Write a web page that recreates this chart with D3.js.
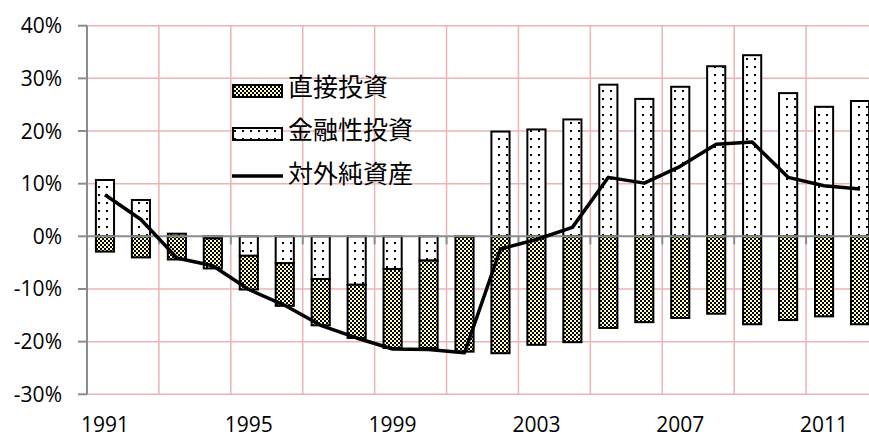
<!DOCTYPE html>
<html>
<head>
<meta charset="utf-8">
<script src="https://cdn.jsdelivr.net/npm/d3@7"></script>
<style>
  html, body { margin: 0; padding: 0; background: #fff; }
  svg { display: block; }
  .tick-label { font-family: "Open Sans", sans-serif; font-size: 21px; fill: #000; }
  .legend-label { font-family: "Noto Sans CJK JP", sans-serif; font-size: 25px; fill: #000; }
</style>
</head>
<body>
<svg width="869" height="438"></svg>
<script>
var years = [1991, 1992, 1993, 1994, 1995, 1996, 1997, 1998, 1999, 2000, 2001,
             2002, 2003, 2004, 2005, 2006, 2007, 2008, 2009, 2010, 2011, 2012];

// percent of GDP
var directInvest = [-2.9, -4.0, -4.4, -5.7, -6.4, -8.1, -8.8, -10.1, -15.0, -16.6, -21.8,
                    -22.2, -20.6, -20.1, -17.4, -16.3, -15.5, -14.7, -16.7, -15.9, -15.2, -16.7];
var portfolioInvest = [10.7, 6.9, 0.5, -0.4, -3.7, -5.1, -8.1, -9.2, -6.2, -4.6, -0.1,
                       19.9, 20.3, 22.2, 28.8, 26.1, 28.4, 32.3, 34.4, 27.2, 24.6, 25.7];
var netAssets = [7.9, 3.2, -4.1, -5.6, -10.1, -13.1, -16.9, -19.3, -21.4, -21.5, -22.1,
                 -2.4, -0.6, 1.7, 11.2, 10.1, 13.3, 17.5, 17.9, 11.2, 9.6, 9.0];

var yTicks = [-30, -20, -10, 0, 10, 20, 30, 40];
var xLabels = [1991, 1995, 1999, 2003, 2007, 2011];
var legendNames = ["直接投資", "金融性投資", "対外純資産"];

var DrawChart = function(){
  var svg = d3.select("svg");

  var plotLeft = 87,
      plotRight = 878,
      plotTop = 25.7,
      plotBottom = 394.3;

  var x = d3.scaleBand()
        .domain(years)
        .range([plotLeft, plotRight])
        .paddingInner(0.44)
        .paddingOuter(0.22);

  var y = d3.scaleLinear()
        .domain([-30, 40])
        .range([plotBottom, plotTop]);

  var step = x.step();

  // patterns
  var defs = svg.append("defs");

  var checker = defs.append("pattern")
        .attr("id", "checker")
        .attr("patternUnits", "userSpaceOnUse")
        .attr("width", 4)
        .attr("height", 4);
  checker.append("rect").attr("width", 4).attr("height", 4).attr("fill", "#ffffc0");
  checker.append("rect").attr("width", 2).attr("height", 2).attr("fill", "#000");
  checker.append("rect").attr("x", 2).attr("y", 2).attr("width", 2).attr("height", 2).attr("fill", "#000");

  var dots = defs.append("pattern")
        .attr("id", "dots")
        .attr("patternUnits", "userSpaceOnUse")
        .attr("width", 8)
        .attr("height", 8);
  dots.append("rect").attr("width", 8).attr("height", 8).attr("fill", "#fff");
  dots.append("rect").attr("x", 2).attr("y", 2).attr("width", 2).attr("height", 2).attr("fill", "#000");

  // gridlines
  var grid = svg.append("g").attr("class", "grid");

  grid.selectAll("line.h")
    .data(yTicks.filter(function(d) { return d !== 0; }))
    .enter().append("line")
    .attr("class", "h")
    .attr("x1", plotLeft)
    .attr("x2", plotRight)
    .attr("y1", function(d) { return y(d); })
    .attr("y2", function(d) { return y(d); })
    .attr("stroke", "#ebb4b4")
    .attr("stroke-width", 1.5);

  var boundaries = d3.range(2, years.length + 1, 2);

  grid.selectAll("line.v")
    .data(boundaries)
    .enter().append("line")
    .attr("class", "v")
    .attr("x1", function(d) { return plotLeft + d * step; })
    .attr("x2", function(d) { return plotLeft + d * step; })
    .attr("y1", plotTop)
    .attr("y2", plotBottom)
    .attr("stroke", "#ebb4b4")
    .attr("stroke-width", 1.5);

  // y axis
  svg.append("line")
    .attr("x1", plotLeft).attr("x2", plotLeft)
    .attr("y1", plotTop).attr("y2", plotBottom)
    .attr("stroke", "#8c8c8c")
    .attr("stroke-width", 2);

  svg.selectAll("line.ytick")
    .data(yTicks)
    .enter().append("line")
    .attr("class", "ytick")
    .attr("x1", plotLeft - 9).attr("x2", plotLeft)
    .attr("y1", function(d) { return y(d); })
    .attr("y2", function(d) { return y(d); })
    .attr("stroke", "#8c8c8c")
    .attr("stroke-width", 2);

  svg.selectAll("text.ylab")
    .data(yTicks)
    .enter().append("text")
    .attr("class", "tick-label ylab")
    .attr("x", 62)
    .attr("y", function(d) { return y(d) + 7.5; })
    .attr("text-anchor", "end")
    .text(function(d) { return d + "%"; });

  // bars
  var rows = years.map(function(yr, i) {
    return { year: yr, portfolio: portfolioInvest[i], direct: directInvest[i] };
  });

  var stacked = d3.stack()
        .keys(["portfolio", "direct"])
        .offset(d3.stackOffsetDiverging)(rows);

  var fills = { portfolio: "url(#dots)", direct: "url(#checker)" };

  var series = svg.append("g").attr("class", "bars")
        .selectAll("g")
        .data(stacked)
        .enter().append("g")
        .attr("fill", function(s) { return fills[s.key]; });

  series.selectAll("rect")
    .data(function(s) { return s; })
    .enter().append("rect")
    .attr("x", function(d) { return x(d.data.year) + 1; })
    .attr("width", x.bandwidth() - 2)
    .attr("y", function(d) { return y(Math.max(d[0], d[1])); })
    .attr("height", function(d) { return Math.abs(y(d[0]) - y(d[1])); })
    .attr("stroke", "#000")
    .attr("stroke-width", 2);

  // zero axis with tick marks
  svg.append("line")
    .attr("x1", plotLeft).attr("x2", plotRight)
    .attr("y1", y(0)).attr("y2", y(0))
    .attr("stroke", "#8c8c8c")
    .attr("stroke-width", 2);

  svg.selectAll("line.xtick")
    .data(boundaries)
    .enter().append("line")
    .attr("class", "xtick")
    .attr("x1", function(d) { return plotLeft + d * step; })
    .attr("x2", function(d) { return plotLeft + d * step; })
    .attr("y1", y(0))
    .attr("y2", y(0) + 8)
    .attr("stroke", "#8c8c8c")
    .attr("stroke-width", 2);

  svg.selectAll("text.xlab")
    .data(xLabels)
    .enter().append("text")
    .attr("class", "tick-label xlab")
    .attr("x", function(d) { return x(d) + x.bandwidth() / 2; })
    .attr("y", 431.5)
    .attr("text-anchor", "middle")
    .text(function(d) { return d; });

  // net assets line
  var line = d3.line()
        .x(function(d, i) { return x(years[i]) + x.bandwidth() / 2; })
        .y(function(d) { return y(d); });

  svg.append("path")
    .datum(netAssets)
    .attr("d", line)
    .attr("fill", "none")
    .attr("stroke", "#000")
    .attr("stroke-width", 3.5)
    .attr("stroke-linejoin", "round");

  // legend
  var legend = svg.append("g").attr("class", "legend");
  var legendY = [85, 128, 172];

  legend.append("rect")
    .attr("x", 233).attr("y", 85)
    .attr("width", 49).attr("height", 12)
    .attr("fill", "url(#checker)")
    .attr("stroke", "#000").attr("stroke-width", 2);

  legend.append("rect")
    .attr("x", 233).attr("y", 128)
    .attr("width", 49).attr("height", 12)
    .attr("fill", "url(#dots)")
    .attr("stroke", "#000").attr("stroke-width", 2);

  legend.append("line")
    .attr("x1", 232).attr("x2", 283)
    .attr("y1", 176).attr("y2", 176)
    .attr("stroke", "#000")
    .attr("stroke-width", 3.5);

  legend.selectAll("text")
    .data(legendNames)
    .enter().append("text")
    .attr("class", "legend-label")
    .attr("x", 288)
    .attr("y", function(d, i) { return legendY[i]; })
    .attr("dominant-baseline", "central")
    .text(function(d) { return d; });
};

DrawChart();
</script>
</body>
</html>
